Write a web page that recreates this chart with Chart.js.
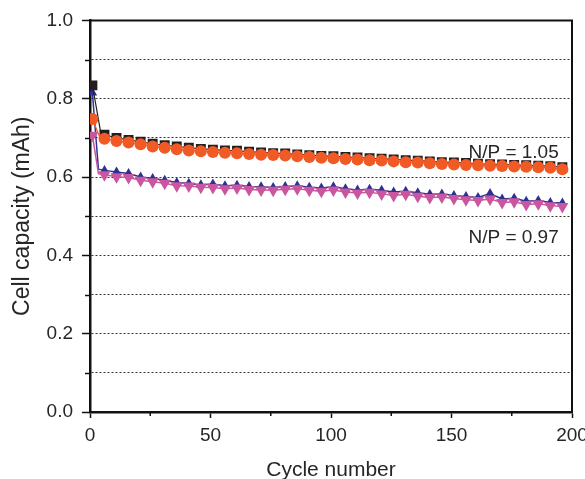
<!DOCTYPE html>
<html>
<head>
<meta charset="utf-8">
<script src="https://cdn.jsdelivr.net/npm/chart.js@4.4.0/dist/chart.umd.min.js"></script>
<style>
  html, body { margin: 0; padding: 0; background: #fff; }
  canvas { display: block; }
</style>
</head>
<body>
<canvas id="chartCapacidad" width="585" height="479"></canvas>
<script>
// ciclos con marcador (cada 5 ciclos)
const cycles = [1, 6, 11, 16, 21, 26, 31, 36, 41, 46, 51, 56, 61, 66, 71, 76, 81, 86, 91, 96,
  101, 106, 111, 116, 121, 126, 131, 136, 141, 146, 151, 156, 161, 166, 171, 176, 181, 186, 191, 196];

// N/P = 1.05
const blackSquares = [0.834, 0.708, 0.700, 0.695, 0.690, 0.685, 0.681, 0.678, 0.675, 0.672,
  0.670, 0.668, 0.667, 0.665, 0.663, 0.661, 0.660, 0.658, 0.656, 0.654,
  0.653, 0.651, 0.650, 0.648, 0.647, 0.645, 0.643, 0.642, 0.640, 0.638,
  0.637, 0.636, 0.634, 0.633, 0.632, 0.631, 0.630, 0.629, 0.628, 0.625];
const orangeCircles = [0.748, 0.698, 0.692, 0.688, 0.684, 0.678, 0.675, 0.671, 0.668, 0.666,
  0.664, 0.662, 0.661, 0.659, 0.657, 0.656, 0.655, 0.653, 0.651, 0.649,
  0.648, 0.646, 0.645, 0.643, 0.642, 0.640, 0.638, 0.637, 0.635, 0.633,
  0.632, 0.631, 0.630, 0.629, 0.628, 0.627, 0.626, 0.625, 0.624, 0.620];

// N/P = 0.97
const blueTriangles = [0.815, 0.617, 0.613, 0.609, 0.600, 0.596, 0.592, 0.586, 0.584, 0.580,
  0.582, 0.578, 0.579, 0.576, 0.575, 0.573, 0.576, 0.578, 0.574, 0.572,
  0.575, 0.570, 0.567, 0.569, 0.566, 0.562, 0.564, 0.560, 0.556, 0.557,
  0.553, 0.550, 0.548, 0.558, 0.544, 0.546, 0.538, 0.540, 0.535, 0.534];
const pinkTriangles = [0.707, 0.606, 0.601, 0.599, 0.592, 0.588, 0.584, 0.578, 0.577, 0.574,
  0.573, 0.570, 0.572, 0.568, 0.567, 0.566, 0.569, 0.570, 0.566, 0.564,
  0.567, 0.562, 0.559, 0.561, 0.557, 0.553, 0.556, 0.551, 0.548, 0.549,
  0.545, 0.542, 0.540, 0.544, 0.535, 0.537, 0.530, 0.532, 0.527, 0.525];

// caída inicial (ciclo sin marcador) para naranja, negro, rosa, azul
const earlyCycle = [4, 4.5, 3.5, 3.5];
const earlyValue = [0.702, 0.712, 0.609, 0.620];

const yTicks = ["0.0", "0.2", "0.4", "0.6", "0.8", "1.0"];
const xTicks = [0, 50, 100, 150, 200];

// etiquetas dentro del gráfico: [texto, ciclo (borde derecho), capacidad]
const notas = [["N/P = 1.05", 194.5, 0.661], ["N/P = 0.97", 194.5, 0.446]];

const FUENTE = "'Liberation Sans', Arial, sans-serif";
const TEXTO = "#262626";

function serie(datos, k, color, estilo, radio, grosor, rot) {
  const pts = cycles.map((c, i) => ({x: c, y: datos[i]}));
  pts.splice(1, 0, {x: earlyCycle[k], y: earlyValue[k]});
  return {
    data: pts,
    borderColor: color,
    backgroundColor: color,
    borderWidth: grosor,
    pointStyle: estilo,
    pointRadius: pts.map((p, i) => i === 1 ? 0 : radio),
    pointRotation: rot || 0,
    pointBorderWidth: 0,
    tension: 0
  };
}

const esMayorY = v => yTicks.includes(v.toFixed(1));
const esMayorX = v => xTicks.includes(v);

// ticks menores cortos, marco superior/derecho y notas
const extras = {
  id: "extras",
  afterDraw(chart) {
    const {ctx, chartArea: a, scales: {x, y}} = chart;
    ctx.save();
    ctx.strokeStyle = "#111";
    ctx.lineWidth = 1.5;
    y.ticks.forEach(t => {
      if (esMayorY(t.value)) return;
      const py = Math.round(y.getPixelForValue(t.value)) + 0.5;
      ctx.beginPath(); ctx.moveTo(a.left - 5, py); ctx.lineTo(a.left, py); ctx.stroke();
    });
    x.ticks.forEach(t => {
      if (esMayorX(t.value)) return;
      const px = x.getPixelForValue(t.value);
      ctx.beginPath(); ctx.moveTo(px, a.bottom); ctx.lineTo(px, a.bottom + 4); ctx.stroke();
    });
    // marco
    ctx.lineWidth = 2;
    ctx.beginPath();
    ctx.moveTo(a.left, a.top);
    ctx.lineTo(a.right, a.top);
    ctx.lineTo(a.right, a.bottom);
    ctx.stroke();
    // notas
    ctx.fillStyle = TEXTO;
    ctx.font = "19px " + FUENTE;
    ctx.textAlign = "right";
    ctx.textBaseline = "middle";
    notas.forEach(([txt, cx, cy]) => ctx.fillText(txt, x.getPixelForValue(cx), y.getPixelForValue(cy)));
    ctx.restore();
  }
};

new Chart(document.getElementById("chartCapacidad").getContext("2d"), {
  type: "line",
  data: {
    datasets: [
      serie(orangeCircles, 0, "#f15a24", "circle", 6, 1.2),
      serie(blackSquares, 1, "#231f20", "rect", 7, 1.2),
      serie(pinkTriangles, 2, "#c9569f", "triangle", 7, 1.5, 180),
      serie(blueTriangles, 3, "#2e3192", "triangle", 5.5, 1.5)
    ]
  },
  options: {
    responsive: false,
    animation: false,
    layout: { padding: { top: 20, right: 13, left: 0, bottom: 0 } },
    plugins: { legend: { display: false }, tooltip: { enabled: false } },
    scales: {
      x: {
        type: "linear",
        min: 0, max: 200,
        afterFit: s => { s.height = 67; s.paddingRight = 0; s.paddingLeft = 0; },
        ticks: {
          stepSize: 25,
          autoSkip: false,
          maxRotation: 0,
          padding: 6,
          color: TEXTO,
          font: { family: FUENTE, size: 19 },
          callback: v => esMayorX(v) ? String(v) : ""
        },
        grid: {
          drawOnChartArea: false,
          tickLength: 6,
          tickWidth: 1.5,
          tickColor: c => esMayorX(c.tick.value) ? "#111" : "transparent"
        },
        border: { color: "#111", width: 2.5 },
        title: {
          display: true,
          text: "Cycle number",
          color: TEXTO,
          font: { family: FUENTE, size: 21 },
          padding: { top: 0, bottom: -4 }
        }
      },
      y: {
        min: 0, max: 1,
        afterFit: s => { s.width = 90; },
        ticks: {
          stepSize: 0.1,
          autoSkip: false,
          padding: 9,
          color: TEXTO,
          font: { family: FUENTE, size: 19 },
          callback: v => esMayorY(v) ? v.toFixed(1) : ""
        },
        grid: {
          color: c => (c.tick.value <= 0.001 || c.tick.value >= 0.999) ? "transparent" : "#333",
          lineWidth: 1,
          tickLength: 8,
          tickWidth: 1.5,
          tickColor: c => esMayorY(c.tick.value) ? "#111" : "transparent"
        },
        border: { color: "#111", width: 2.5, dash: [2, 2] },
        title: {
          display: true,
          text: "Cell capacity (mAh)",
          color: TEXTO,
          font: { family: FUENTE, size: 23 },
          padding: { top: 9, bottom: 0 }
        }
      }
    }
  },
  plugins: [extras]
});
</script>
</body>
</html>
